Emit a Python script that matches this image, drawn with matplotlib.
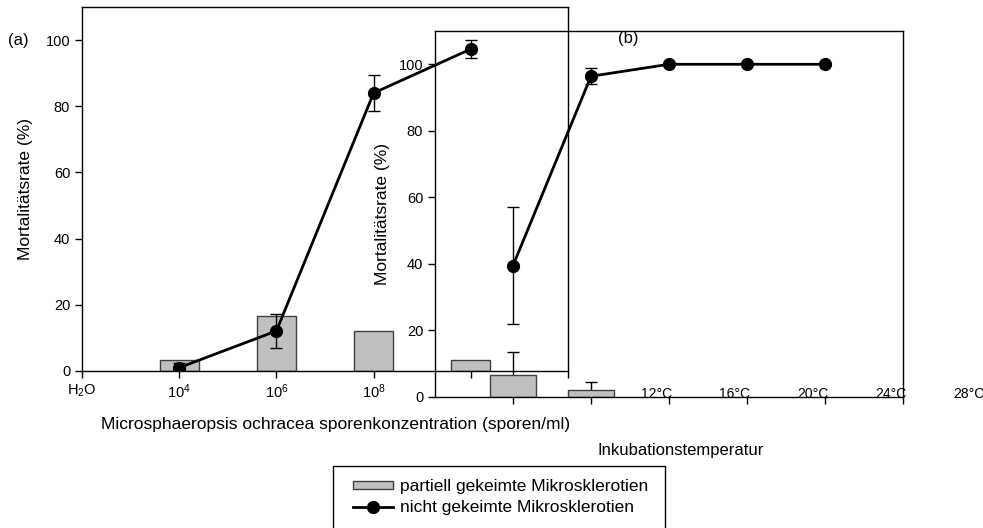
"""Mortality of microsclerotia: spore concentration (a) and temperature (b)."""

import numpy as np
import matplotlib
matplotlib.use("Agg")
import matplotlib.pyplot as plt
from matplotlib.lines import Line2D
from matplotlib.patches import Patch, Rectangle

plt.rcParams["font.family"] = ["Liberation Sans", "DejaVu Sans"]
plt.rcParams["mathtext.fontset"] = "custom"
plt.rcParams["mathtext.rm"] = "Liberation Sans"
plt.rcParams["mathtext.it"] = "Liberation Sans"

# panel (a): spore concentration
conc_labels = ["H$_2$O", "10$^4$", "10$^6$", "10$^8$", ""]
conc_pos = [1, 2, 3, 4]
conc_bars = [3.3, 16.7, 12.1, 3.3]
conc_dead = [1.0, 12.1, 84.0, 97.3]
conc_dead_err = [1.5, 5.2, 5.4, 2.8]

# panel (b): incubation temperature
temp_pos = [1, 2, 3, 4, 5]
temp_bars = [6.6, 2.1]
temp_bars_err = [7.0, 2.4]
temp_dead = [39.5, 96.4, 100.0, 100.0, 100.0]
temp_dead_err = [17.6, 2.4, 0, 0, 0]
temp_labels = ["12°C", "16°C", "20°C", "24°C", "28°C"]
temp_label_pos = [3, 4, 5, 6, 7]

W, H = 983, 528
fig = plt.figure(figsize=(W / 100, H / 100), dpi=100)


def px_rect(left, top, right, bottom):
    return [left / W, 1 - bottom / H, (right - left) / W, (bottom - top) / H]


bar_kw = dict(color="#c0c0c0", edgecolor="#404040", linewidth=1, zorder=2)
line_kw = dict(color="black", lw=2, marker="o", ms=8.5, capsize=4,
               elinewidth=1, capthick=1, zorder=3)
fs = 10.5
lfs = 12.5

# ---- panel (a)
ax1 = fig.add_axes(px_rect(82, 7, 568, 371))
ax1.patch.set_alpha(0)
ax1.bar(conc_pos, conc_bars, width=0.4, **bar_kw)
ax1.errorbar(conc_pos, conc_dead, yerr=conc_dead_err, **line_kw)
ax1.set_xlim(0, 5)
ax1.set_ylim(0, 110)
ax1.set_xticks(range(6))
ax1.set_xticklabels(conc_labels + [""], fontsize=fs)
ax1.set_yticks(range(0, 101, 20))
ax1.tick_params(labelsize=fs, length=5, width=1, direction="out")
ax1.set_ylabel("Mortalitätsrate (%)", fontsize=lfs, labelpad=9)
for s in ax1.spines.values():
    s.set_linewidth(1)

# ---- panel (b)
ax2 = fig.add_axes(px_rect(435, 31, 903, 397))
ax2.patch.set_alpha(0)
ax2.errorbar(temp_pos[:2], temp_bars, yerr=temp_bars_err, fmt="none",
             ecolor="black", elinewidth=1, capsize=4, capthick=1, zorder=1)
ax2.bar(temp_pos[:2], temp_bars, width=0.6, **bar_kw)
ax2.errorbar(temp_pos, temp_dead, yerr=temp_dead_err, **line_kw)
ax2.set_xlim(0, 6)
ax2.set_ylim(0, 110)
ax2.set_xticks(range(1, 7))
ax2.set_xticklabels([])
ax2.set_yticks(range(0, 101, 20))
ax2.tick_params(labelsize=fs, length=5, width=1, direction="out")
ax2.set_ylabel("Mortalitätsrate (%)", fontsize=lfs, labelpad=6)
for s in ax2.spines.values():
    s.set_linewidth(1)
for x, lab in zip(temp_label_pos, temp_labels):
    ax2.text(x - 0.16, 1.0, lab, fontsize=10, ha="center", va="center",
             clip_on=False)

fig.text(8 / W, 1 - 41 / H, "(a)", fontsize=12, va="center")
fig.text(628 / W, 1 - 39 / H, "(b)", fontsize=12, ha="center", va="center")
fig.text(336 / W, 1 - 425 / H,
         "Microsphaeropsis ochracea sporenkonzentration (sporen/ml)",
         fontsize=lfs, ha="center", va="center")
fig.text(681 / W, 1 - 451 / H, "Inkubationstemperatur", fontsize=12,
         ha="center", va="center")

# legend box runs off the bottom edge
fig.patches.append(Rectangle((333 / W, -0.05), (665 - 333) / W,
                             1 - 466 / H + 0.05, transform=fig.transFigure,
                             fill=False, edgecolor="black", linewidth=1))
handles = [
    Patch(facecolor="#c0c0c0", edgecolor="#404040", linewidth=1),
    Line2D([], [], color="black", lw=2, marker="o", ms=8.5),
]
fig.legend(handles, ["partiell gekeimte Mikrosklerotien",
                     "nicht gekeimte Mikrosklerotien"],
           loc="upper left", bbox_to_anchor=(353 / W, 1 - 479 / H),
           frameon=False, fontsize=lfs, handlelength=2.3, handletextpad=0.4,
           handleheight=0.35, labelspacing=0.35, borderpad=0, borderaxespad=0)

fig.savefig("out.png", dpi=100)
